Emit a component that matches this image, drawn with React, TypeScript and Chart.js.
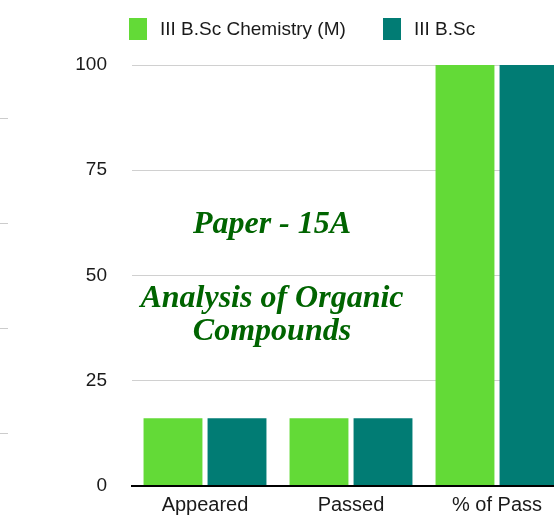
import React, { useEffect, useRef } from "react";
import { Chart, registerables } from "chart.js";

Chart.register(...registerables);

const categories = ["Appeared", "Passed", "% of Pass"];
const seriesNames = ["III B.Sc Chemistry (M)", "III B.Sc"];
const chemistryM = [16, 16, 100];
const bsc = [16, 16, 100];
const yMax = 100;
const yStep = 25;
const edgeMarks = [87.5, 62.5, 37.5, 12.5];
const overlayLines = ["Paper - 15A", "Analysis of Organic", "Compounds"];

const GREEN = "#63DA37";
const TEAL = "#017C74";
const FONT = '"Liberation Sans", Arial, Helvetica, sans-serif';

const legendItemsX = [129, 383];

const overlayPlugin = {
  id: "overlayText",
  afterDraw(chart: any) {
    const { ctx } = chart;
    ctx.save();
    chart.data.datasets.forEach((ds: any, i: number) => {
      const x = legendItemsX[i];
      ctx.fillStyle = ds.backgroundColor;
      ctx.fillRect(x, 18, 18, 22);
      ctx.fillStyle = "#1a1a1a";
      ctx.font = "19px " + FONT;
      ctx.textAlign = "left";
      ctx.textBaseline = "middle";
      ctx.fillText(ds.label, x + 31, 30);
    });
    const y = chart.scales.y;
    ctx.strokeStyle = "#cccccc";
    ctx.lineWidth = 1;
    edgeMarks.forEach((v) => {
      const py = Math.round(y.getPixelForValue(v)) + 0.5;
      ctx.beginPath();
      ctx.moveTo(0, py);
      ctx.lineTo(8, py);
      ctx.stroke();
    });
    ctx.fillStyle = "#006400";
    ctx.textAlign = "center";
    ctx.textBaseline = "alphabetic";
    ctx.font = 'italic bold 32px "Liberation Serif", "Times New Roman", serif';
    const cx = 272;
    ctx.fillText(overlayLines[0], cx, 233);
    ctx.fillText(overlayLines[1], cx, 307);
    ctx.fillText(overlayLines[2], cx, 340);
    ctx.restore();
  },
};

export default function App() {
  const ref = useRef<HTMLCanvasElement>(null);
  useEffect(() => {
    if (!ref.current) return;
    const chart = new Chart(ref.current, {
      type: "bar",
      data: {
        labels: categories,
        datasets: [
          { label: seriesNames[0], data: chemistryM, backgroundColor: GREEN, borderWidth: 0 },
          { label: seriesNames[1], data: bsc, backgroundColor: TEAL, borderWidth: 0 },
        ],
      },
      options: {
        responsive: false,
        animation: false,
        layout: { padding: { top: 65, left: 0, right: 0, bottom: 0 } },
        datasets: {
          bar: { categoryPercentage: 0.877, barPercentage: 0.92 },
        },
        plugins: {
          legend: { display: false },
          tooltip: { enabled: false },
        },
        scales: {
          x: {
            grid: { display: false, drawTicks: false },
            border: { display: true, color: "#000000", width: 2 },
            ticks: { color: "#1a1a1a", padding: 9.5, font: { family: FONT, size: 20, lineHeight: 1 } },
            afterFit: (s: any) => {
              s.height = 36;
            },
          },
          y: {
            min: 0,
            max: yMax,
            ticks: { stepSize: yStep, color: "#1a1a1a", padding: 25, font: { family: FONT, size: 19 } },
            grid: { color: "#d0d0d0", lineWidth: 1, drawTicks: false },
            border: { display: false },
            afterFit: (s: any) => {
              s.width = 132;
            },
          },
        },
      },
      plugins: [overlayPlugin],
    });
    return () => chart.destroy();
  }, []);
  return (
    <div
      style={{
        position: "fixed",
        left: 0,
        top: 0,
        width: 554,
        height: 518,
        overflow: "hidden",
        background: "#fff",
      }}
    >
      <canvas ref={ref} width={570} height={522} style={{ display: "block" }} />
    </div>
  );
}
